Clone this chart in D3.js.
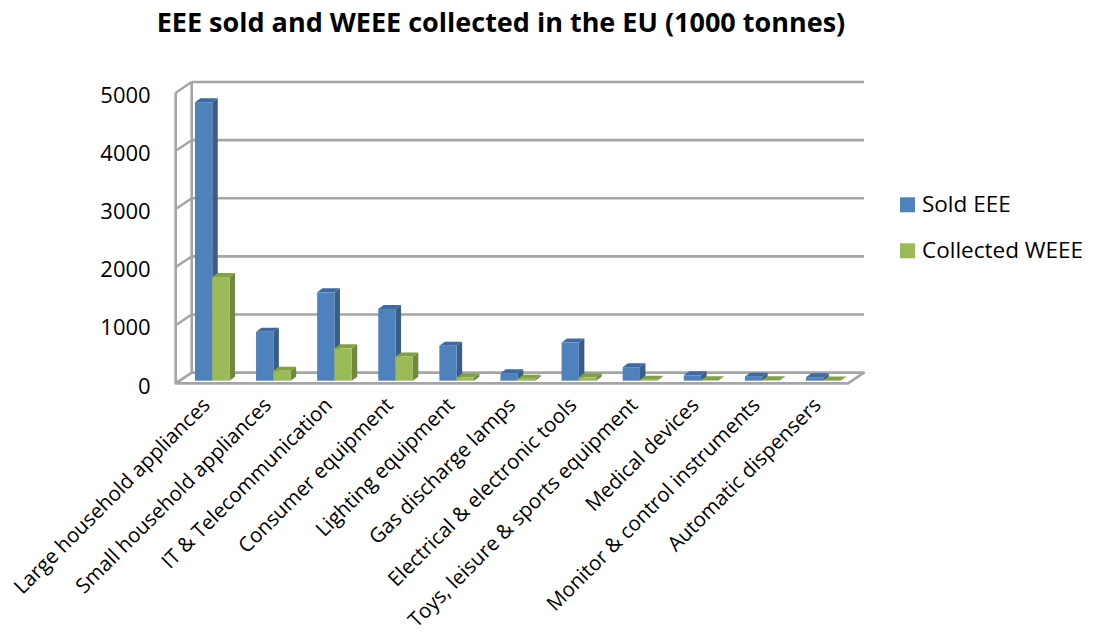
<!DOCTYPE html>
<html>
<head>
<meta charset="utf-8">
<script src="https://cdn.jsdelivr.net/npm/d3@7"></script>
<style>
  html, body { margin: 0; padding: 0; background: #ffffff; }
  svg { display: block; font-family: "Open Sans", "Noto Sans", sans-serif; }
</style>
</head>
<body>
<svg id="chart" width="1103" height="642"></svg>
<script>
// Categories of electrical and electronic equipment
const categories = [
  "Large household appliances",
  "Small household appliances",
  "IT & Telecommunication",
  "Consumer equipment",
  "Lighting equipment",
  "Gas discharge lamps",
  "Electrical & electronic tools",
  "Toys, leisure & sports equipment",
  "Medical devices",
  "Monitor & control instruments",
  "Automatic dispensers"
];
// Values in 1000 tonnes
const soldEEE       = [4790, 840, 1520, 1235, 600, 128, 655, 232, 93, 70, 60];
const collectedWEEE = [1785, 172, 556, 418, 55, 35, 58, 18, 8, 6, 5];
const seriesNames = ["Sold EEE", "Collected WEEE"];
const yTicks = [0, 1000, 2000, 3000, 4000, 5000];
const title = "EEE sold and WEEE collected in the EU (1000 tonnes)";

const colors = {
  "Sold EEE":       { front: "#4f81bd", side: "#385d8a", top: "#41699b" },
  "Collected WEEE": { front: "#9bbb59", side: "#71893f", top: "#82a04a" }
};

const svg = d3.select("#chart");

// Oblique projection: the back wall, the bar plane and the front edge
const backLeft = 191.7, backRight = 864;
const depth = { dx: -16, dy: 10.7 };      // back wall -> front edge
const barShift = { dx: -12, dy: 8 };      // back wall -> bar front faces
const barDepth = { dx: 5.5, dy: -4 };     // bar front face -> bar back face

const yBack = d3.scaleLinear().domain([0, 5000]).range([372.7, 82]);
const yBar = v => yBack(v) + barShift.dy;
const yFront = v => yBack(v) + depth.dy;

const x = d3.scaleBand()
  .domain(categories)
  .range([backLeft - 10, backLeft - 10 + 11 * 61.1])
  .paddingInner(0.434)
  .paddingOuter(0.217);
const xSeries = d3.scaleBand().domain(seriesNames).range([0, x.bandwidth()]);

const lineColor = "#a5a5a5";
const walls = svg.append("g");

// Back wall gridlines
walls.selectAll("line.grid")
  .data(yTicks)
  .join("line")
  .attr("class", "grid")
  .attr("x1", backLeft).attr("x2", backRight)
  .attr("y1", d => yBack(d)).attr("y2", d => yBack(d))
  .attr("stroke", lineColor).attr("stroke-width", 2.6);

// Side wall: verticals and tick diagonals
walls.append("line")
  .attr("x1", backLeft).attr("x2", backLeft)
  .attr("y1", yBack(5000)).attr("y2", yBack(0))
  .attr("stroke", lineColor).attr("stroke-width", 2.6);
walls.append("line")
  .attr("x1", backLeft + depth.dx).attr("x2", backLeft + depth.dx)
  .attr("y1", yFront(5000)).attr("y2", yFront(0))
  .attr("stroke", lineColor).attr("stroke-width", 2.6);
walls.selectAll("line.diag")
  .data(yTicks)
  .join("line")
  .attr("class", "diag")
  .attr("x1", backLeft + depth.dx).attr("y1", d => yFront(d))
  .attr("x2", backLeft).attr("y2", d => yBack(d))
  .attr("stroke", lineColor).attr("stroke-width", 2.4);

// Floor
const floorPts = [
  [backLeft, yBack(0)], [backRight, yBack(0)],
  [backRight + depth.dx, yFront(0)], [backLeft + depth.dx, yFront(0)]
];
walls.append("polygon")
  .attr("points", floorPts.map(p => p.join(",")).join(" "))
  .attr("fill", "#ffffff")
  .attr("stroke", lineColor).attr("stroke-width", 2.6)
  .attr("stroke-linejoin", "round");

// Bars
const barData = [];
categories.forEach((c, i) => {
  barData.push({ cat: c, series: "Sold EEE", value: soldEEE[i] });
  barData.push({ cat: c, series: "Collected WEEE", value: collectedWEEE[i] });
});

const bars = svg.append("g").selectAll("g.bar")
  .data(barData)
  .join("g")
  .attr("class", "bar");

function pts(arr) { return arr.map(p => p.join(",")).join(" "); }

bars.each(function (d) {
  const g = d3.select(this);
  const x0 = x(d.cat) + xSeries(d.series);
  const x1 = x0 + xSeries.bandwidth();
  const yt = yBar(d.value), yb = yBar(0);
  const c = colors[d.series];
  // side face
  g.append("polygon")
    .attr("points", pts([[x1, yb], [x1 + barDepth.dx, yb + barDepth.dy],
                         [x1 + barDepth.dx, yt + barDepth.dy], [x1, yt]]))
    .attr("fill", c.side);
  // top face
  g.append("polygon")
    .attr("points", pts([[x0, yt], [x1, yt],
                         [x1 + barDepth.dx, yt + barDepth.dy], [x0 + barDepth.dx, yt + barDepth.dy]]))
    .attr("fill", c.top);
  // front face
  g.append("rect")
    .attr("x", x0).attr("y", yt)
    .attr("width", x1 - x0).attr("height", yb - yt)
    .attr("fill", c.front);
});

// Value axis labels
svg.append("g").selectAll("text")
  .data(yTicks)
  .join("text")
  .attr("x", 150.7)
  .attr("y", d => yFront(d) + 10.2)
  .attr("text-anchor", "end")
  .attr("font-size", 22)
  .attr("fill", "#000")
  .text(d => d);

// Category labels, rotated
svg.append("g").selectAll("text")
  .data(categories)
  .join("text")
  .attr("transform", d => {
    const cx = x(d) + x.bandwidth() / 2 - 1;
    const cy = yFront(0) + 23;
    return `translate(${cx},${cy}) rotate(-45)`;
  })
  .attr("text-anchor", "end")
  .attr("font-size", 20.5)
  .attr("fill", "#000")
  .text(d => d);

// Title
svg.append("text")
  .attr("x", 501).attr("y", 32)
  .attr("text-anchor", "middle")
  .attr("font-size", 27)
  .attr("font-weight", "bold")
  .attr("fill", "#000")
  .text(title);

// Legend
const legend = svg.append("g").selectAll("g")
  .data(seriesNames)
  .join("g")
  .attr("transform", (d, i) => `translate(900,${197.3 + i * 46})`);
legend.append("rect")
  .attr("width", 15).attr("height", 15)
  .attr("fill", d => colors[d].front);
legend.append("text")
  .attr("x", 22).attr("y", 15)
  .attr("font-size", 22.5)
  .attr("fill", "#000")
  .text(d => d);
</script>
</body>
</html>
